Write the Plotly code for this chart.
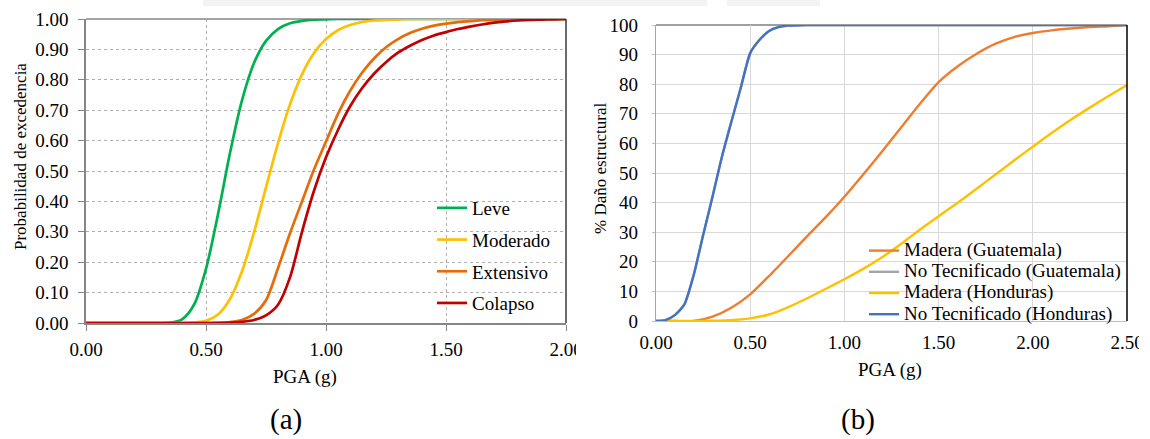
import plotly.graph_objects as go

# ---------------- data: panel (a) fragility curves ----------------
PGA_A = [0.00, 0.05, 0.10, 0.15, 0.20, 0.25, 0.30, 0.35, 0.40, 0.45,
         0.50, 0.55, 0.60, 0.65, 0.70, 0.75, 0.80, 0.85, 0.90, 0.95,
         1.00, 1.05, 1.10, 1.15, 1.20, 1.25, 1.30, 1.35, 1.40, 1.45,
         1.50, 1.55, 1.60, 1.65, 1.70, 1.75, 1.80, 1.85, 1.90, 1.95, 2.00]

LEVE = [0, 0, 0, 0, 0, 0, 0, 0.001, 0.012, 0.06,
        0.178, 0.358, 0.559, 0.732, 0.855, 0.928, 0.967, 0.986, 0.994, 0.998,
        0.999, 1, 1, 1, 1, 1, 1, 1, 1, 1,
        1, 1, 1, 1, 1, 1, 1, 1, 1, 1, 1]

MODERADO = [0, 0, 0, 0, 0, 0, 0, 0, 0, 0.001,
            0.007, 0.028, 0.079, 0.170, 0.298, 0.446, 0.592, 0.719, 0.818, 0.888,
            0.934, 0.963, 0.980, 0.990, 0.995, 0.997, 0.999, 1, 1, 1,
            1, 1, 1, 1, 1, 1, 1, 1, 1, 1, 1]

EXTENSIVO = [0, 0, 0, 0, 0, 0, 0, 0, 0, 0,
             0, 0.001, 0.003, 0.010, 0.030, 0.075, 0.180, 0.295, 0.400, 0.505,
             0.597, 0.688, 0.763, 0.823, 0.870, 0.907, 0.934, 0.954, 0.968, 0.978,
             0.985, 0.990, 0.993, 0.996, 0.997, 0.998, 0.999, 0.999, 1, 1, 1]

COLAPSO = [0, 0, 0, 0, 0, 0, 0, 0, 0, 0,
           0, 0, 0.001, 0.004, 0.010, 0.025, 0.060, 0.150, 0.300, 0.435,
           0.545, 0.635, 0.712, 0.772, 0.820, 0.858, 0.889, 0.912, 0.931, 0.946,
           0.957, 0.967, 0.975, 0.982, 0.988, 0.992, 0.995, 0.997, 0.998, 0.999, 1]

NAMES_A = ["Leve", "Moderado", "Extensivo", "Colapso"]
X_TICKS_A = [0, 0.5, 1.0, 1.5, 2.0]
X_TICKTEXT_A = ["0.00", "0.50", "1.00", "1.50", "2.00"]

# ---------------- data: panel (b) damage curves ----------------
PGA_B = [0.0, 0.1, 0.2, 0.3, 0.4, 0.5, 0.6, 0.7, 0.8, 0.9,
         1.0, 1.1, 1.2, 1.3, 1.4, 1.5, 1.6, 1.7, 1.8, 1.9,
         2.0, 2.1, 2.2, 2.3, 2.4, 2.5]
MADERA_GT = [0, 0, 0, 1.5, 4.5, 9.0, 15.2, 21.8, 28.5, 35.0,
             42.0, 49.5, 57.3, 65.3, 73.3, 80.7, 86.0, 90.2, 93.6, 95.9,
             97.3, 98.2, 98.8, 99.3, 99.6, 100]
MADERA_HN = [0, 0, 0, 0.1, 0.3, 0.9, 2.2, 4.6, 7.6, 10.8,
             14.1, 17.6, 21.5, 26.0, 30.8, 35.4, 39.9, 44.6, 49.4, 54.2,
             58.9, 63.5, 67.9, 72.0, 75.9, 79.7]

PGA_NT = [0.00, 0.05, 0.10, 0.15, 0.20, 0.25, 0.30, 0.35, 0.40, 0.45,
          0.50, 0.55, 0.60, 0.65, 0.70, 0.80, 0.90, 1.00, 1.50, 2.00, 2.50]
NT_GT = [0, 0.3, 2.0, 5.5, 15.5, 29.0, 42.0, 55.5, 67.3, 78.8,
         90.5, 95.0, 98.0, 99.3, 99.8, 100, 100, 100, 100, 100, 100]
NT_HN = [0, 0.3, 2.0, 5.5, 15.5, 29.0, 42.0, 55.5, 67.3, 78.8,
         90.5, 95.0, 98.0, 99.3, 99.8, 100, 100, 100, 100, 100, 100]

NAMES_B = ["Madera (Guatemala)", "No Tecnificado (Guatemala)",
           "Madera (Honduras)", "No Tecnificado (Honduras)"]
X_TICKS_B = [0, 0.5, 1.0, 1.5, 2.0, 2.5]
X_TICKTEXT_B = ["0.00", "0.50", "1.00", "1.50", "2.00", "2.50"]

# ---------------- styles ----------------
FONT = "Times New Roman, Liberation Serif, DejaVu Serif, serif"
COLORS_A = ["#00b050", "#ffc000", "#e46c0a", "#c00000"]
COLORS_B = ["#ed7d31", "#a5a5a5", "#ffc000", "#4472c4"]

W, H = 1150, 439


def px_x(p):
    return p / W


def px_y(p):
    return 1 - p / H


fig = go.Figure()

for name, vals, col in zip(NAMES_A, [LEVE, MODERADO, EXTENSIVO, COLAPSO], COLORS_A):
    fig.add_trace(go.Scatter(
        x=PGA_A, y=vals, mode="lines", name=name,
        line=dict(color=col, width=2.7, shape="spline", smoothing=0.8),
        xaxis="x", yaxis="y", legend="legend", legendgroup=name,
    ))

series_b = [(PGA_B, MADERA_GT), (PGA_NT, NT_GT), (PGA_B, MADERA_HN), (PGA_NT, NT_HN)]
for name, (xs, ys), col in zip(NAMES_B, series_b, COLORS_B):
    fig.add_trace(go.Scatter(
        x=xs, y=ys, mode="lines",
        name='<span style="font-size:19px">' + name + '</span>',
        line=dict(color=col, width=2.4, shape="spline", smoothing=0.6),
        xaxis="x2", yaxis="y2", legend="legend2",
    ))

tickfont = dict(family=FONT, size=19, color="black")

fig.update_layout(
    template="none",
    width=W, height=H,
    margin=dict(l=0, r=0, t=0, b=0, pad=0, autoexpand=False),
    paper_bgcolor="white", plot_bgcolor="white",
    font=dict(family=FONT, size=19, color="black"),
    xaxis=dict(
        domain=[px_x(86), px_x(566)], range=[0, 2], anchor="y", automargin=False,
        tickvals=X_TICKS_A, ticktext=X_TICKTEXT_A,
        showgrid=True, gridcolor="#b0b0b0", griddash="dot", gridwidth=1,
        showline=True, linecolor="#868686", linewidth=1.5,
        ticks="outside", ticklen=6, tickcolor="#868686", tickwidth=1,
        tickfont=tickfont, zeroline=False, ticklabelstandoff=2,
    ),
    yaxis=dict(
        domain=[px_y(323), px_y(19)], range=[0, 1], anchor="x", automargin=False,
        tick0=0, dtick=0.1, tickformat=".2f",
        showgrid=True, gridcolor="#b0b0b0", griddash="dot", gridwidth=1,
        showline=True, linecolor="#868686", linewidth=1.5,
        ticks="outside", ticklen=6, tickcolor="#868686", tickwidth=1,
        tickfont=tickfont, zeroline=False, ticklabelstandoff=6,
    ),
    xaxis2=dict(
        domain=[px_x(656), px_x(1127)], range=[0, 2.5], anchor="y2", automargin=False,
        tickvals=X_TICKS_B, ticktext=X_TICKTEXT_B,
        showgrid=True, gridcolor="#d9d9d9", gridwidth=1.3,
        showline=True, linecolor="#bfbfbf", linewidth=1.3,
        ticks="", tickfont=tickfont, zeroline=False, ticklabelstandoff=4,
    ),
    yaxis2=dict(
        domain=[px_y(321), px_y(25)], range=[0, 100], anchor="x2", automargin=False,
        tick0=0, dtick=10,
        showgrid=True, gridcolor="#d9d9d9", gridwidth=1.3,
        showline=True, linecolor="#a6a6a6", linewidth=1.3,
        ticks="outside", ticklen=3, tickcolor="#bfbfbf", tickwidth=1,
        tickfont=tickfont, zeroline=False, ticklabelstandoff=10,
    ),
    legend=dict(
        x=px_x(432), y=px_y(189), xanchor="left", yanchor="top",
        bgcolor="rgba(0,0,0,0)", borderwidth=0,
        font=dict(family=FONT, size=19, color="black"),
        tracegroupgap=4, itemwidth=30,
    ),
    legend2=dict(
        x=px_x(864), y=px_y(235), xanchor="left", yanchor="top",
        bgcolor="rgba(0,0,0,0)", borderwidth=0,
        font=dict(family=FONT, size=14, color="black"),
        tracegroupgap=0, itemwidth=30,
    ),
)

shapes = [
    # faint watermark band at the very top of the page
    dict(type="rect", xref="paper", yref="paper", x0=px_x(203), x1=px_x(707),
         y0=px_y(6), y1=1, fillcolor="#f3f3f3", line=dict(width=0), layer="below"),
    dict(type="rect", xref="paper", yref="paper", x0=px_x(727), x1=px_x(820),
         y0=px_y(6), y1=1, fillcolor="#f3f3f3", line=dict(width=0), layer="below"),
    # panel (a) frame: top gray, right dark
    dict(type="line", xref="x domain", yref="y domain", x0=0, x1=1, y0=1, y1=1,
         line=dict(color="#868686", width=1.5), layer="below"),
    # masks that cut off the last tick labels like the cropped original
    dict(type="rect", xref="paper", yref="paper", x0=px_x(576), x1=px_x(610),
         y0=px_y(365), y1=px_y(330), fillcolor="white", line=dict(width=0), layer="above"),
    dict(type="rect", xref="paper", yref="paper", x0=px_x(1139), x1=1,
         y0=px_y(360), y1=px_y(325), fillcolor="white", line=dict(width=0), layer="above"),
    dict(type="line", xref="x domain", yref="y domain", x0=1, x1=1, y0=0, y1=1,
         line=dict(color="#3a3a3a", width=1.5), layer="above"),
    # panel (b) frame
    dict(type="line", xref="x2 domain", yref="y2 domain", x0=0, x1=1, y0=1, y1=1,
         line=dict(color="#7f7f7f", width=1.3), layer="below"),
    dict(type="line", xref="x2 domain", yref="y2 domain", x0=1, x1=1, y0=0, y1=1,
         line=dict(color="#000000", width=1.5), layer="above"),
]
fig.update_layout(shapes=shapes)

ann = [
    dict(text="Probabilidad de excedencia", x=px_x(20), y=px_y(157), textangle=-90,
         font=dict(family=FONT, size=17)),
    dict(text="PGA (g)", x=px_x(305), y=px_y(377), font=dict(family=FONT, size=19)),
    dict(text="(a)", x=px_x(286), y=px_y(419), font=dict(family=FONT, size=29)),
    dict(text="% Daño estructural", x=px_x(600), y=px_y(168), textangle=-90,
         font=dict(family=FONT, size=17)),
    dict(text="PGA (g)", x=px_x(890), y=px_y(370), font=dict(family=FONT, size=19)),
    dict(text="(b)", x=px_x(858), y=px_y(419), font=dict(family=FONT, size=29)),
]
for a in ann:
    a.update(xref="paper", yref="paper", showarrow=False, xanchor="center", yanchor="middle")
fig.update_layout(annotations=ann)

fig.write_html("out.html")
